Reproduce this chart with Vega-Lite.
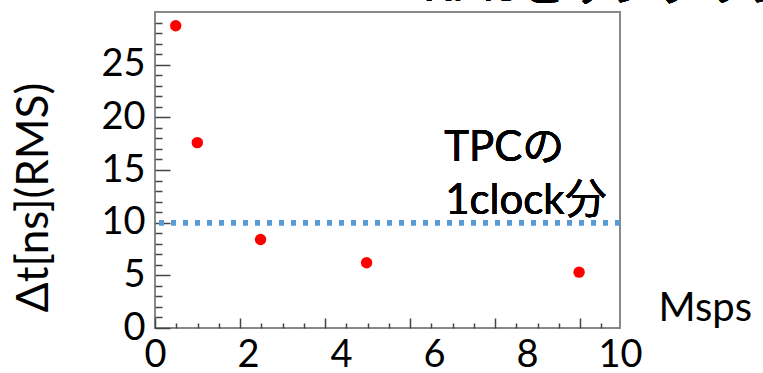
{
  "$schema": "https://vega.github.io/schema/vega-lite/v6.json",
  "width": 465,
  "height": 316,
  "autosize": {"type": "none"},
  "padding": {"left": 155, "top": 12, "right": 143, "bottom": 45},
  "background": "white",
  "config": {
    "view": {"stroke": "#888888", "strokeWidth": 2},
    "font": "Lato, Noto Sans CJK JP",
    "axis": {"grid": false, "domain": false, "labelFont": "Lato, Noto Sans CJK JP", "titleFont": "Lato, Noto Sans CJK JP", "labelFontWeight": "normal", "labelColor": "black", "titleColor": "black", "tickColor": "#444444", "tickWidth": 1.5}
  },
  "data": {
    "values": [
      {"rate": 0.445, "rms": 28.7},
      {"rate": 0.91, "rms": 17.6},
      {"rate": 2.27, "rms": 8.4},
      {"rate": 4.55, "rms": 6.2},
      {"rate": 9.12, "rms": 5.3}
    ]
  },
  "resolve": {"axis": {"x": "independent", "y": "independent"}},
  "layer": [
    {
      "mark": {"type": "rule", "color": "#5B9BD5", "strokeWidth": 5, "strokeDash": [5, 7]},
      "encoding": {"y": {"datum": 10, "type": "quantitative", "scale": {"domain": [0, 30], "nice": false}, "axis": null}}
    },
    {
      "mark": {"type": "point", "filled": true, "color": "#FF0000", "opacity": 1, "size": 130},
      "encoding": {
        "x": {"field": "rate", "type": "quantitative", "scale": {"domain": [0, 10], "nice": false, "zero": true},
          "axis": {"orient": "bottom", "values": [0, 2, 4, 6, 8, 10], "ticks": false, "labelFontSize": 38, "labelPadding": 8, "labelFlush": false,
            "title": "Msps", "titleFontSize": 40, "titleFontWeight": "normal", "titleX": 503, "titleY": -8, "titleAlign": "left", "titleBaseline": "alphabetic", "titleAnchor": null}},
        "y": {"field": "rms", "type": "quantitative", "scale": {"domain": [0, 30], "nice": false},
          "axis": {"orient": "left", "values": [0, 5, 10, 15, 20, 25], "ticks": false, "labelFontSize": 38, "labelPadding": 10, "labelFlush": false,
            "title": "Δt[ns](RMS)", "titleFontSize": 44, "titleFontWeight": "normal", "titleX": -121, "titleY": 185, "titleAngle": -90, "titleAlign": "center", "titleBaseline": "middle"}}
      }
    },
    {
      "mark": {"type": "text", "align": "left", "baseline": "alphabetic", "fontSize": 42, "fontWeight": "normal", "color": "black"},
      "encoding": {
        "x": {"datum": 6.22, "type": "quantitative", "axis": {"orient": "bottom", "values": [0, 1.828, 3.656, 5.484, 7.312, 9.14], "labels": false, "ticks": true, "tickSize": -10, "title": null}},
        "y": {"datum": 15.9, "type": "quantitative", "axis": {"orient": "left", "values": [0, 5, 10, 15, 20, 25], "labels": false, "ticks": true, "tickSize": -15, "title": null}},
        "text": {"value": "TPCの"}
      }
    },
    {
      "mark": {"type": "text", "align": "left", "baseline": "alphabetic", "fontSize": 42, "fontWeight": "normal", "color": "black"},
      "encoding": {
        "x": {"datum": 6.24, "type": "quantitative", "axis": {"orient": "bottom", "values": [0.457, 0.914, 1.371, 2.285, 2.742, 3.199, 4.113, 4.57, 5.027, 5.941, 6.398, 6.855, 7.769, 8.226, 8.683, 9.597], "labels": false, "ticks": true, "tickSize": -5, "title": null}},
        "y": {"datum": 10.8, "type": "quantitative", "axis": {"orient": "left", "values": [1, 2, 3, 4, 6, 7, 8, 9, 11, 12, 13, 14, 16, 17, 18, 19, 21, 22, 23, 24, 26, 27, 28, 29], "labels": false, "ticks": true, "tickSize": -7, "title": null}},
        "text": {"value": "1clock分"}
      }
    },
    {
      "mark": {"type": "text", "align": "left", "baseline": "alphabetic", "fontSize": 46, "fontWeight": "normal", "color": "black", "clip": false},
      "encoding": {
        "x": {"datum": 5.76, "type": "quantitative", "axis": null},
        "y": {"datum": 31.0, "type": "quantitative", "axis": null},
        "text": {"value": "RMSとサンプリング"}
      }
    }
  ]
}
